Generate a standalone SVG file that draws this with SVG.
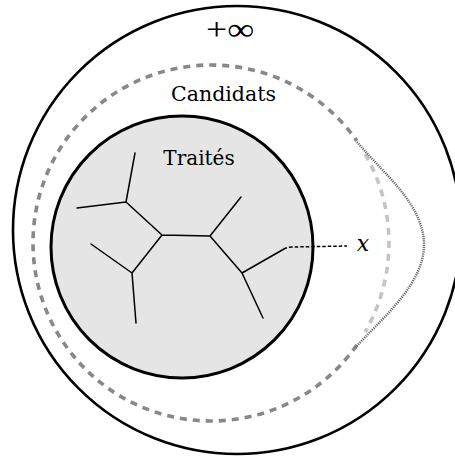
<svg xmlns="http://www.w3.org/2000/svg" width="455" height="457" viewBox="0 0 455 457">
<style>
.lbl{font-family:"DejaVu Serif","Liberation Serif",serif;fill:#000}
.edge{fill:none;stroke:#000;stroke-width:1.5;stroke-linecap:round;stroke-linejoin:round}
.dash{fill:none;stroke-width:3.6;stroke-dasharray:7 6}
</style>
<rect width="455" height="457" fill="#fff"/>
<g id="infinity">
<circle cx="237" cy="230" r="224" fill="none" stroke="#000" stroke-width="2.6"/>
<text x="230" y="40" font-size="32" text-anchor="middle" textLength="48" lengthAdjust="spacingAndGlyphs" style="font-family:'Liberation Serif',serif">+∞</text>
</g>
<g id="candidats">
<path class="dash" d="M356.8,345.1 A178,178 0 1 1 356.8,140.9" stroke="#888"/>
<path class="dash" d="M365.1,154 A178,178 0 0 1 365.1,332" stroke="#c4c4c4"/>
<path d="M357,142 C385,175 424,205 424,245 C424,285 380,320 355,348" fill="none" stroke="#6a6a6a" stroke-width="2.4" stroke-dasharray="1.2 1"/>
<text class="lbl" x="223.5" y="101" font-size="20.5" text-anchor="middle">Candidats</text>
</g>
<g id="traites">
<circle cx="182" cy="247" r="131" fill="#e5e5e5" stroke="#000" stroke-width="3"/>
<text class="lbl" x="199" y="165" font-size="20" text-anchor="middle">Traités</text>
</g>
<g id="connectors">
<path class="edge" d="M135,153 L126,202 M126,202 L77,208 M126,202 L162,235 L210,236 L241,197 M210,236 L242,273 L284,249 M242,273 L263,318 M162,235 L132,273 L91,244 M132,273 L136,323"/>
<path d="M284,249 Q287,247 292,247 L347,246" fill="none" stroke="#000" stroke-width="1.5" stroke-dasharray="3.5 2"/>
</g>
<g id="x">
<text class="lbl" x="363" y="251" font-size="22" font-style="italic" text-anchor="middle">x</text>
</g>
</svg>
